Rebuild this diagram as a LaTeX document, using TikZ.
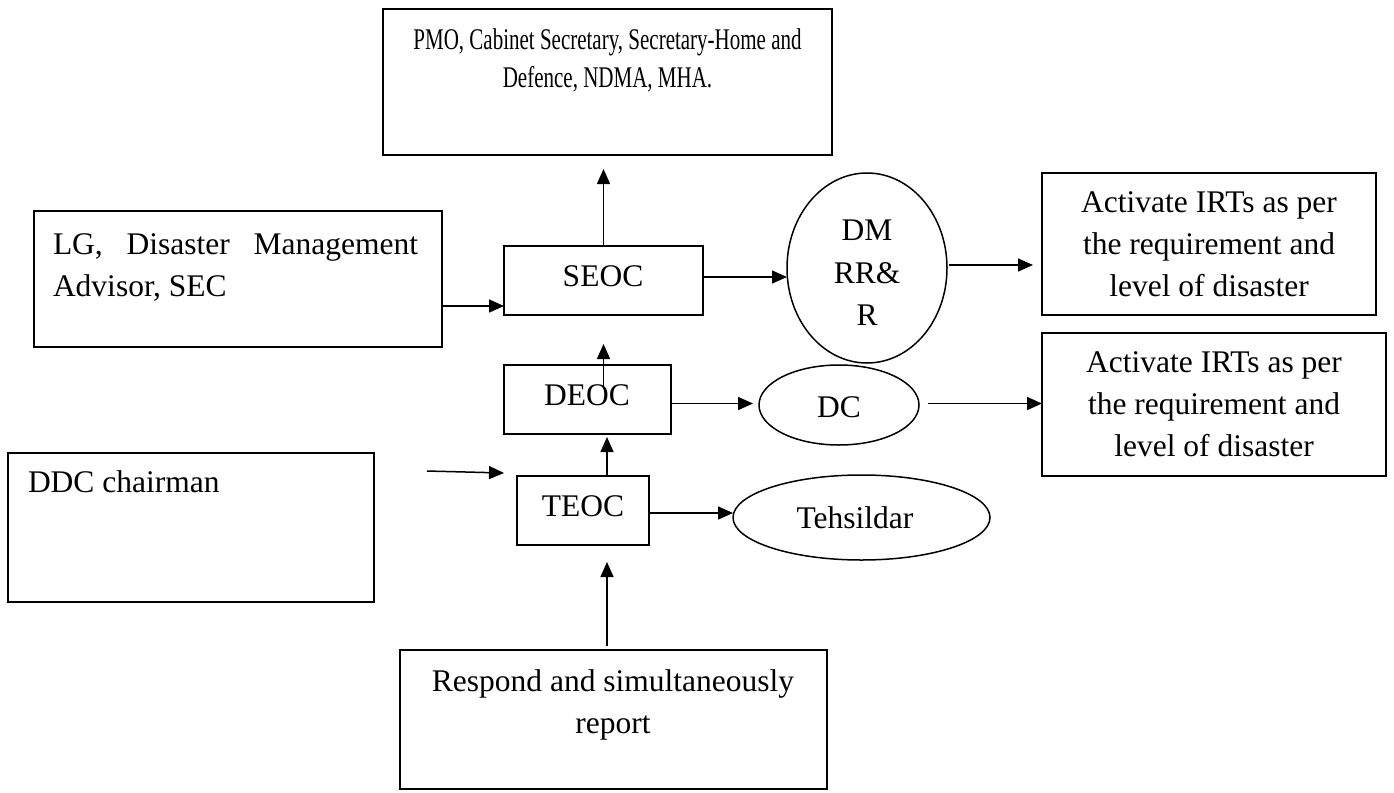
\documentclass[tikz,border=0pt]{standalone}
\usepackage{fontspec}
\setmainfont{Liberation Serif}
\newfontfamily\condensedserif[FakeStretch=0.70]{Liberation Serif}
\usetikzlibrary{arrows.meta,shapes.geometric}
\begin{document}
\begin{tikzpicture}[x=1pt,y=-1pt,
  every node/.style={inner sep=0pt, outer sep=0pt},
  box/.style={draw, rectangle, line width=1.5pt},
  oval/.style={draw, ellipse, line width=1.5pt},
  lbl/.style={font=\fontsize{31.5}{42}\selectfont, align=center},
  arr/.style={-{Triangle[length=15pt,width=13pt]}, line width=1.5pt}]
% page
\fill[white] (0,0) rectangle (1394,792);
\useasboundingbox (0,0) rectangle (1394,792);

% boxes and ovals
\node[box, line width=2pt, minimum width=449pt, minimum height=146pt] (top) at (607.5,82) {};
\node[box, minimum width=408pt, minimum height=136pt] (lg) at (238,279) {};
\node[box, minimum width=199pt, minimum height=69pt] (seoc) at (603.5,280.5) {};
\node[oval, minimum width=160pt, minimum height=190pt] (dm) at (867,268) {};
\node[box, minimum width=334pt, minimum height=142pt] (irt1) at (1209,244) {};
\node[box, minimum width=167pt, minimum height=69pt] (deoc) at (587.5,399.5) {};
\node[oval, minimum width=160pt, minimum height=80pt] (dc) at (839,405) {};
\node[box, minimum width=344pt, minimum height=143pt] (irt2) at (1214,404.5) {};
\node[box, minimum width=366pt, minimum height=149pt] (ddc) at (191,527.5) {};
\node[box, minimum width=132pt, minimum height=69pt] (teoc) at (583,510.5) {};
\node[oval, minimum width=257pt, minimum height=85pt] (teh) at (861.5,517.5) {};
\node[box, minimum width=427pt, minimum height=139pt] (resp) at (613.5,719.5) {};

% texts
\node[lbl, font=\condensedserif\fontsize{30}{37.5}\selectfont] (toptxt) at (607.5,60.6)
  {PMO, Cabinet Secretary, Secretary-Home and\\Defence, NDMA, MHA.};
\node[lbl, anchor=west, align=left] (lgtxt) at (53,267.5)
  {\hbox to 365pt{LG,\hfil Disaster\hfil Management}\\Advisor, SEC};
\node[lbl] (seoctxt) at (603,276) {SEOC};
\node[lbl, font=\fontsize{31.5}{42.5}\selectfont] (dmtxt) at (867,273) {DM\\RR\&\\R};
\node[lbl] (irt1txt) at (1209,244.5) {Activate IRTs as per\\the requirement and\\level of disaster};
\node[lbl] (deoctxt) at (587,395) {DEOC};
\node[lbl] (dctxt) at (839,407.5) {DC};
\node[lbl] (irt2txt) at (1214,404.5) {Activate IRTs as per\\the requirement and\\level of disaster};
\node[lbl, anchor=west] (ddctxt) at (28,482) {DDC chairman};
\node[lbl] (teoctxt) at (583,506.5) {TEOC};
\node[lbl] (tehtxt) at (855,518) {Tehsildar};
\node[lbl] (resptxt) at (613,704.7) {Respond and simultaneously\\report};

% rows and columns the connectors run along
\coordinate (rowA) at (0,306);
\coordinate (rowB) at (0,277);
\coordinate (rowC) at (0,265);
\coordinate (rowD) at (0,403.5);
\coordinate (rowF) at (0,513);
\coordinate (colT) at (607,0);
\coordinate (deocIn) at ([yshift=-22pt]deoc.north);
\coordinate (ddcFrom) at (427,471);
\coordinate (ddcTo) at (504,473);

% connectors
\draw[arr, shorten >=14pt] (seoc.north) -- (seoc.north |- top.south);
\draw[arr] (lg.east |- rowA) -- (seoc.west |- rowA);
\draw[arr] (seoc.east |- rowB) -- (dm.west |- rowB);
\draw[arr, shorten <=2pt, shorten >=9pt] (dm.east |- rowC) -- (irt1.west |- rowC);
\draw[arr, shorten >=29pt] (seoc.south |- deocIn) -- (seoc.south);
\draw[arr, shorten >=6pt] (deoc.east |- rowD) -- (dc.west |- rowD);
\draw[arr, shorten <=9pt] (dc.east |- rowD) -- (irt2.west |- rowD);
\draw[arr, shorten >=3pt] (teoc.north -| colT) -- (deoc.south -| colT);
\draw[arr] (ddcFrom) -- (ddcTo);
\draw[arr] (teoc.east |- rowF) -- (teh.west |- rowF);
\draw[arr, shorten <=4pt, shorten >=17pt] (resp.north -| colT) -- (teoc.south -| colT);
\end{tikzpicture}
\end{document}
